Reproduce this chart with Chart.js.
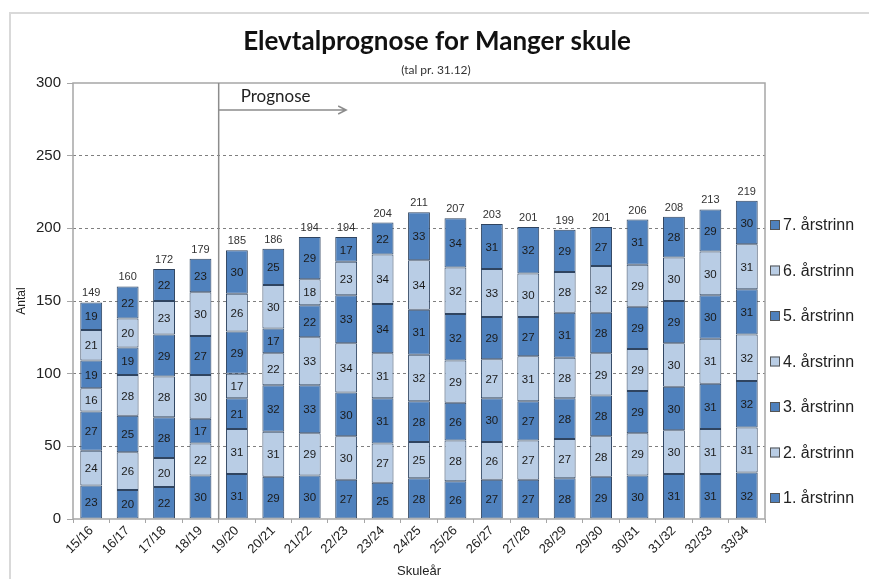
<!DOCTYPE html>
<html>
<head>
<meta charset="utf-8">
<script src="https://cdn.jsdelivr.net/npm/chart.js@4.4.1/dist/chart.umd.min.js"></script>
<style>
  html, body { margin: 0; padding: 0; background: #fff; }
  #wrap { width: 869px; height: 579px; position: relative; }
</style>
</head>
<body>
<div id="wrap"><canvas id="elevChart" width="869" height="579"></canvas></div>
<script>
// skuleår
const years = ['15/16', '16/17', '17/18', '18/19', '19/20', '20/21', '21/22', '22/23', '23/24', '24/25',
               '25/26', '26/27', '27/28', '28/29', '29/30', '30/31', '31/32', '32/33', '33/34'];

// elevar per årstrinn
const trinn1 = [23, 20, 22, 30, 31, 29, 30, 27, 25, 28, 26, 27, 27, 28, 29, 30, 31, 31, 32];
const trinn2 = [24, 26, 20, 22, 31, 31, 29, 30, 27, 25, 28, 26, 27, 27, 28, 29, 30, 31, 31];
const trinn3 = [27, 25, 28, 17, 21, 32, 33, 30, 31, 28, 26, 30, 27, 28, 28, 29, 30, 31, 32];
const trinn4 = [16, 28, 28, 30, 17, 22, 33, 34, 31, 32, 29, 27, 31, 28, 29, 29, 30, 31, 32];
const trinn5 = [19, 19, 29, 27, 29, 17, 22, 33, 34, 31, 32, 29, 27, 31, 28, 29, 29, 30, 31];
const trinn6 = [21, 20, 23, 30, 26, 30, 18, 23, 34, 34, 32, 33, 30, 28, 32, 29, 30, 30, 31];
const trinn7 = [19, 22, 22, 23, 30, 25, 29, 17, 22, 33, 34, 31, 32, 29, 27, 31, 28, 29, 30];

const yTicks = [0, 50, 100, 150, 200, 250, 300];
const firstPrognoseIdx = 4;   // 19/20
const arrowEndIdx = 7;        // 22/23

const darkBlue = '#4f81bd';
const lightBlue = '#b9cde5';
const edge = '#2f4460';

const series = [
  { label: '1. årstrinn', data: trinn1, color: darkBlue },
  { label: '2. årstrinn', data: trinn2, color: lightBlue },
  { label: '3. årstrinn', data: trinn3, color: darkBlue },
  { label: '4. årstrinn', data: trinn4, color: lightBlue },
  { label: '5. årstrinn', data: trinn5, color: darkBlue },
  { label: '6. årstrinn', data: trinn6, color: lightBlue },
  { label: '7. årstrinn', data: trinn7, color: darkBlue }
];

const narrow = '"Liberation Sans Narrow", "Liberation Sans", Arial, sans-serif';

// titlar, ramme, prognose-pil, verdiar og forklaring
const extras = {
  id: 'extras',
  beforeDraw(chart) {
    const c = chart.ctx;
    c.save();
    c.fillStyle = '#fff';
    c.fillRect(0, 0, chart.width, chart.height);
    c.strokeStyle = '#d9d9d9';
    c.lineWidth = 2;
    c.beginPath();
    c.moveTo(10, chart.height);
    c.lineTo(10, 13);
    c.lineTo(chart.width, 13);
    c.stroke();
    c.restore();
  },
  afterDatasetsDraw(chart) {
    const c = chart.ctx;
    const x = chart.scales.x, y = chart.scales.y;
    const a = chart.chartArea;
    c.save();

    // ramme rundt plottet
    c.strokeStyle = '#a6a6a6';
    c.lineWidth = 1.5;
    c.strokeRect(a.left, a.top, a.right - a.left, a.bottom - a.top);

    // prognose-skilje
    const sx = (x.getPixelForValue(firstPrognoseIdx - 1) + x.getPixelForValue(firstPrognoseIdx)) / 2;
    c.strokeStyle = '#8c8c8c';
    c.lineWidth = 1.5;
    c.beginPath();
    c.moveTo(sx, a.top);
    c.lineTo(sx, a.bottom);
    c.stroke();
    const ay = a.top + 27;
    const ex = x.getPixelForValue(arrowEndIdx);
    c.beginPath();
    c.moveTo(sx, ay);
    c.lineTo(ex, ay);
    c.moveTo(ex - 8, ay - 4);
    c.lineTo(ex, ay);
    c.lineTo(ex - 8, ay + 4);
    c.stroke();
    c.fillStyle = '#222';
    c.font = '17px Lato, "Open Sans", sans-serif';
    c.textAlign = 'left';
    c.textBaseline = 'middle';
    c.fillText('Prognose', sx + 22, a.top + 14);

    // tal i kvar del
    c.font = '11.5px ' + narrow;
    c.textAlign = 'center';
    c.fillStyle = '#1a1a1a';
    chart.data.datasets.forEach((ds, di) => {
      chart.getDatasetMeta(di).data.forEach((bar, i) => {
        const mid = (bar.y + bar.base) / 2;
        c.fillText(String(ds.data[i]), bar.x, mid + 1);
      });
    });

    // totalsum over søyla
    c.font = '11px ' + narrow;
    c.fillStyle = '#333';
    years.forEach((yr, i) => {
      let sum = 0;
      chart.data.datasets.forEach(ds => { sum += ds.data[i]; });
      c.fillText(String(sum), x.getPixelForValue(i), y.getPixelForValue(sum) - 9);
    });

    // forklaring (7. øvst)
    c.font = '16px ' + narrow;
    c.textAlign = 'left';
    const items = chart.data.datasets.slice().reverse();
    items.forEach((ds, k) => {
      const ly = 225 + k * 45.5;
      c.fillStyle = ds.backgroundColor;
      c.fillRect(a.right + 5, ly - 5, 10, 10);
      c.strokeStyle = '#555';
      c.lineWidth = 1;
      c.strokeRect(a.right + 5.5, ly - 4.5, 9, 9);
      c.fillStyle = '#222';
      c.fillText(ds.label, a.right + 18, ly + 1);
    });

    // tittel
    c.textAlign = 'center';
    c.fillStyle = '#111';
    c.font = 'bold 26px Lato, "Open Sans", sans-serif';
    c.fillText('Elevtalprognose for Manger skule', 437, 42);
    c.font = '12px Lato, "Open Sans", sans-serif';
    c.fillStyle = '#333';
    c.fillText('(tal pr. 31.12)', 436, 70);
    c.restore();
  }
};

const ctx = document.getElementById('elevChart').getContext('2d');

new Chart(ctx, {
  type: 'bar',
  data: {
    labels: years,
    datasets: series.map(s => ({
      label: s.label,
      data: s.data,
      backgroundColor: s.color,
      borderColor: edge,
      borderWidth: 1,
      borderSkipped: false,
      barPercentage: 0.6,
      categoryPercentage: 1
    }))
  },
  options: {
    responsive: false,
    animation: false,
    devicePixelRatio: 1,
    layout: { padding: { left: 10, right: 104, top: 83, bottom: 0 } },
    plugins: {
      legend: { display: false },
      tooltip: { enabled: false }
    },
    scales: {
      x: {
        stacked: true,
        grid: { display: true, drawOnChartArea: false, offset: true, tickLength: 4, color: '#a6a6a6' },
        border: { display: false },
        ticks: {
          maxRotation: 45, minRotation: 45,
          padding: 0,
          color: '#222',
          font: { family: narrow, size: 13 }
        },
        title: {
          display: true, text: 'Skuleår', color: '#222',
          font: { family: narrow, size: 13 },
          padding: { top: 0, bottom: 0 }
        },
        afterFit(scale) { scale.height = 60; }
      },
      y: {
        stacked: true,
        min: 0, max: 300,
        afterBuildTicks(scale) { scale.ticks = yTicks.map(v => ({ value: v })); },
        grid: {
          color: ctx2 => (ctx2.tick && (ctx2.tick.value === 0 || ctx2.tick.value === 300)) ? 'rgba(0,0,0,0)' : '#7f7f7f',
          tickColor: '#a6a6a6',
          tickBorderDash: [],
          tickLength: 6
        },
        border: { display: false, dash: [3, 3] },
        ticks: {
          padding: 6,
          color: '#222',
          font: { family: '"Liberation Sans", Arial, sans-serif', size: 15 }
        },
        title: {
          display: true, text: 'Antal', color: '#222',
          font: { family: narrow, size: 12 },
          padding: { top: 4, bottom: 0 }
        },
        afterFit(scale) { scale.width = 63; }
      }
    }
  },
  plugins: [extras]
});
</script>
</body>
</html>
